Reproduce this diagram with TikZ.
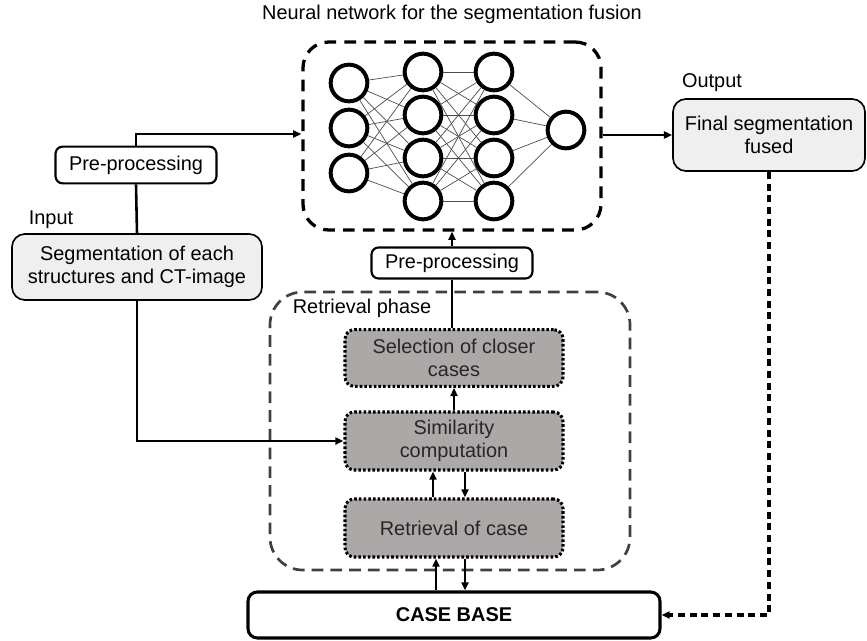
\documentclass[tikz,border=0pt]{standalone}
\usepackage{fontspec}
\setmainfont{Liberation Sans}
\usetikzlibrary{calc, fit, arrows.meta}

\definecolor{casegray}{RGB}{172,168,167}
\definecolor{lightfill}{RGB}{239,239,239}
\definecolor{phasegray}{RGB}{64,64,64}

\begin{document}
\begin{tikzpicture}[x=0.03cm, y=-0.03cm,
  font=\fontsize{17}{20}\selectfont,
  wbox/.style={draw, line width=1.8pt, rounded corners=6pt, fill=white, align=center},
  fillbox/.style={draw, line width=1.4pt, rounded corners=11pt, fill=lightfill, align=center},
  casebox/.style={draw, line width=2.6pt, dash pattern=on 2.2pt off 1.8pt,
    rounded corners=8pt, fill=casegray, text=black!85, align=center,
    minimum width=6.54cm},
  neuron/.style={draw, circle, line width=3.4pt, minimum size=1.1cm, inner sep=0pt},
  link/.style={black!70, line width=0.6pt},
  arr/.style={line width=2.2pt, -{Triangle[length=7pt, width=6pt]}},
  plain/.style={line width=2.2pt}]
  \useasboundingbox (0,0) rectangle (867,640);

  % titre du réseau
  \node (title) at (452,14) {Neural network for the segmentation fusion};

  % cadre du réseau de neurones
  \coordinate (nnNW) at (303,42);
  \coordinate (nnSE) at (601,230);
  \node[fit=(nnNW)(nnSE), inner sep=0pt, draw, line width=2.8pt,
    dash pattern=on 10pt off 7pt, rounded corners=22pt] (nn) {};

  % neurones : 3 - 4 - 4 - 1
  \foreach \i/\y in {1/83, 2/128, 3/173}
    \node[neuron] (a\i) at (349,\y) {};
  \foreach \i/\y in {1/72, 2/115, 3/158, 4/201} {
    \node[neuron] (b\i) at (423,\y) {};
    \node[neuron] (c\i) at (494,\y) {};
  }
  \node[neuron] (d) at (566,130) {};

  \foreach \i in {1,...,3}
    \foreach \j in {1,...,4}
      \draw[link] (a\i) -- (b\j);
  \foreach \i in {1,...,4}
    \foreach \j in {1,...,4}
      \draw[link] (b\i) -- (c\j);
  \foreach \i in {1,...,4}
    \draw[link] (c\i) -- (d);

  % entrée
  \node (inlabel) at (51,220) {Input};
  \node[fillbox, minimum width=7.5cm, minimum height=1.98cm] (inp) at (137,267)
    {Segmentation of each\\structures and CT-image};
  \node[wbox, minimum width=4.83cm, minimum height=1.1cm] (pre1) at (136,165) {Pre-processing};

  % sortie
  \node (outlabel) at (712,83) {Output};
  \node[fillbox, minimum width=5.76cm, minimum height=2.16cm] (out) at (769,135)
    {Final segmentation\\fused};

  % phase de recherche
  \coordinate (rpNW) at (270,292);
  \coordinate (rpSE) at (630,570);
  \node[fit=(rpNW)(rpSE), inner sep=0pt, draw=phasegray, line width=2.3pt,
    dash pattern=on 10pt off 6pt, rounded corners=28pt] (phase) {};
  \node (phaselabel) at (362,308) {Retrieval phase};

  \node[wbox, minimum width=4.83cm, minimum height=0.93cm] (pre2) at (452,263) {Pre-processing};
  \node[casebox, minimum height=1.7cm] (sel) at (454,358) {Selection of closer\\cases};
  \node[casebox, minimum height=1.74cm] (sim) at (454,441) {Similarity\\computation};
  \node[casebox, minimum height=1.74cm] (ret) at (454,528) {Retrieval of case};

  % base de cas
  \node[draw, line width=2.6pt, rounded corners=8pt, minimum width=12.36cm,
    minimum height=1.38cm] (cb) at (454,615) {\textbf{CASE BASE}};

  % liaisons
  \coordinate (k1) at (136,134);
  \draw[plain] (inp.north) -- (pre1.south);
  \draw[arr] (pre1.north) -- (k1) -- (k1 -| nn.west);
  \draw[arr] (inp.south) |- (sim.west);
  \draw[arr] (nn.east |- out.west) -- (out.west);
  \draw[line width=2.6pt, dash pattern=on 6pt off 4pt,
    -{Triangle[length=7pt, width=6pt]}] (out.south) |- (cb.east);
  \draw[arr] (pre2.north) -- (pre2.north |- nn.south);
  \draw[plain] (pre2.south) -- (pre2.south |- sel.north);
  \draw[arr] (sim.north) -- (sel.south);
  \draw[arr] ($(ret.north)+(-21,0)$) -- ($(sim.south)+(-21,0)$);
  \draw[arr] ($(sim.south)+(11,0)$) -- ($(ret.north)+(11,0)$);
  \draw[arr] ($(cb.north)+(-18,0)$) -- ($(ret.south)+(-18,0)$);
  \draw[arr] ($(ret.south)+(11,0)$) -- ($(cb.north)+(11,0)$);
\end{tikzpicture}
\end{document}
